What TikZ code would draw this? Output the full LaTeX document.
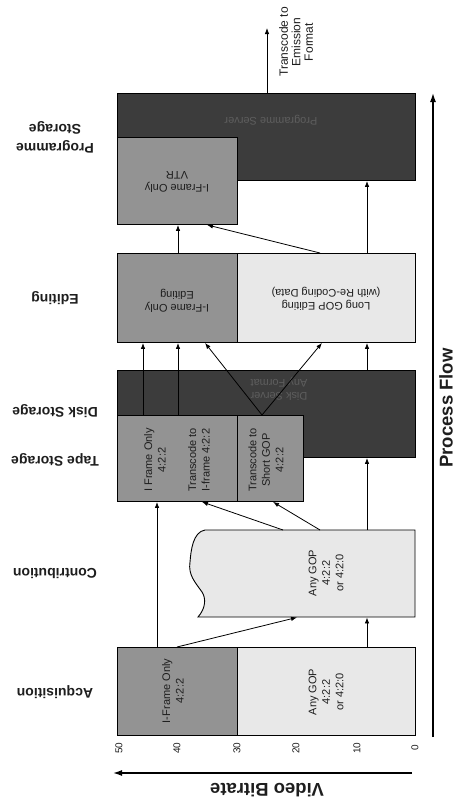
\documentclass[tikz,border=0pt]{standalone}
\usepackage{fontspec}
\setmainfont{Liberation Sans}
\usetikzlibrary{arrows.meta,calc}
\definecolor{darkfill}{HTML}{3C3C3C}
\definecolor{midfill}{HTML}{939393}
\definecolor{lightfill}{HTML}{E8E8E8}
\definecolor{darktext}{HTML}{5E5E5E}
\definecolor{inktext}{HTML}{1E1E1E}
\begin{document}
\begin{tikzpicture}[x=1pt,y=-1pt,
  box/.style={draw=black, line width=0.9pt, inner sep=0pt, anchor=north west},
  darkbox/.style={box, fill=darkfill},
  midbox/.style={box, fill=midfill},
  lightbox/.style={box, fill=lightfill},
  flow/.style={draw=black, line width=0.8pt, -{Latex[length=6pt,width=4.5pt]}},
  boxtxt/.style={font=\fontsize{11}{13.5}\selectfont, align=center, inner sep=0pt, text=inktext},
  vtxt/.style={boxtxt, rotate=90},
  utxt/.style={boxtxt, rotate=180},
  collabel/.style={font=\fontsize{14}{19}\selectfont\bfseries, align=center, rotate=180, inner sep=0pt, text=inktext},
  axislabel/.style={font=\fontsize{18.5}{22}\selectfont\bfseries, inner sep=0pt, text=inktext},
  ticklabel/.style={font=\fontsize{10}{12}\selectfont, rotate=90, inner sep=0pt, text=inktext}
]
\useasboundingbox[fill=white] (0,0) rectangle (459,803);

% ---- boxes ----
\node[darkbox, minimum width=298pt, minimum height=87pt] (progD) at (117,93) {};
\node[midbox, minimum width=120pt, minimum height=87pt] (vtr) at (117,137) {};
\node[midbox, minimum width=120pt, minimum height=89pt] (editI) at (117,253) {};
\node[lightbox, minimum width=178pt, minimum height=89pt] (editL) at (237,253) {};
\node[darkbox, minimum width=298pt, minimum height=87pt] (diskD) at (117,370) {};
\node[midbox, minimum width=120pt, minimum height=86pt] (tapeI) at (117,415) {};
\node[midbox, minimum width=66pt, minimum height=86pt] (tapeS) at (237,415) {};
\node[inner sep=0pt, minimum width=220pt, minimum height=87pt, anchor=north west] (contrib) at (195,530) {};
\draw[line width=0.9pt, fill=lightfill] (415,617) -- (198,617)
  .. controls (206,608) and (206,598) .. (202,592)
  .. controls (195,582) and (188,575) .. (190,562)
  .. controls (191,550) and (193,532) .. (205,530)
  -- (415,530) -- cycle;
\node[midbox, minimum width=120pt, minimum height=88pt] (acqI) at (117,647) {};
\node[lightbox, minimum width=178pt, minimum height=88pt] (acqA) at (237,647) {};

% ---- box texts ----
\node[utxt, text=darktext] (progTxt) at (271,120) {Programme Server};
\node[utxt] (vtrTxt) at (177,182) {I-Frame Only\\VTR};
\node[utxt] (editITxt) at (177,301) {I-Frame Only\\Editing};
\node[utxt] (editLTxt) at (326,299) {Long GOP Editing\\(with Re-Coding Data)};
\node[utxt, text=darktext] (diskTxt) at (279,389) {Disk Server\\Any Format};
\node[vtxt] (tapeITxt) at (155,460) {I Frame Only\\4:2:2};
\node[vtxt] (tapeTTxt) at (199,460) {Transcode to\\I-frame 4:2:2};
\node[vtxt] (tapeSTxt) at (266,460) {Transcode to\\Short GOP\\4:2:2};
\node[vtxt] (contribTxt) at (326,573) {Any GOP\\4:2:2\\or 4:2:0};
\node[vtxt] (acqITxt) at (173,691) {I-Frame Only\\4:2:2};
\node[vtxt] (acqATxt) at (326,692) {Any GOP\\4:2:2\\or 4:2:0};

% ---- connectors ----
\draw[flow] ([xshift=40pt]acqI.north west) -- ([xshift=40pt]tapeI.south west);
\draw[flow] ([xshift=60pt]acqI.north west) -- ([xshift=102pt]contrib.south west);
\draw[flow] ([xshift=130pt]acqA.north west) -- ([xshift=172pt]contrib.south west);
\draw[flow] ([xshift=88pt]contrib.north west) -- ([xshift=85pt]tapeI.south west);
\draw[flow] ([xshift=125pt]contrib.north west) -- ([xshift=36pt]tapeS.south west);
\draw[flow] ([xshift=172pt]contrib.north west) -- ([xshift=250pt]diskD.south west);
\draw[flow] ([xshift=26pt]tapeI.north west) -- ([xshift=26pt]editI.south west);
\draw[flow] ([xshift=61pt]tapeI.north west) -- ([xshift=61pt]editI.south west);
\draw[flow] ([xshift=25pt]tapeS.north west) -- ([xshift=88pt]editI.south west);
\draw[flow] ([xshift=25pt]tapeS.north west) -- ([xshift=85pt]editL.south west);
\draw[flow] ([xshift=250pt]diskD.north west) -- ([xshift=130pt]editL.south west);
\draw[flow] ([xshift=61pt]editI.north west) -- ([xshift=61pt]vtr.south west);
\draw[flow] ([xshift=83pt]editL.north west) -- ([xshift=90pt]vtr.south west);
\draw[flow] ([xshift=130pt]editL.north west) -- ([xshift=250pt]progD.south west);
\coordinate (emit) at (267,28);
\draw[flow] ([xshift=150pt]progD.north west) -- (emit);
\node[font=\fontsize{12}{12.5}\selectfont, align=center, rotate=90, inner sep=0pt, text=inktext] (emitTxt) at (296,42) {Transcode to\\Emission\\Format};

% ---- process flow axis ----
\coordinate (pfS) at (433,737);
\coordinate (pfE) at (433,93);
\draw[line width=1.4pt, -{Latex[length=9pt,width=6pt]}] (pfS) -- (pfE);
\node[axislabel, rotate=90] (pfTxt) at (446,408) {Process Flow};

% ---- bitrate axis ----
\coordinate (vbS) at (412,773);
\coordinate (vbE) at (113,773);
\draw[line width=1.4pt, -{Latex[length=9pt,width=6pt]}] (vbS) -- (vbE);
\node[axislabel, rotate=180] (vbTxt) at (267,790) {Video Bitrate};
\node[ticklabel] (t50) at (119,748) {50};
\node[ticklabel] (t40) at (177,748) {40};
\node[ticklabel] (t30) at (237,748) {30};
\node[ticklabel] (t20) at (296,748) {20};
\node[ticklabel] (t10) at (357,748) {10};
\node[ticklabel] (t0) at (415,748) {0};

% ---- column labels ----
\node[collabel] (lProg) at (55,137) {Programme\\Storage};
\node[collabel] (lEdit) at (55,298) {Editing};
\node[collabel] (lDisk) at (55,411) {Disk Storage};
\node[collabel] (lTape) at (55,460) {Tape Storage};
\node[collabel] (lContrib) at (55,573) {Contribution};
\node[collabel] (lAcq) at (55,692) {Acquisition};
\end{tikzpicture}
\end{document}
